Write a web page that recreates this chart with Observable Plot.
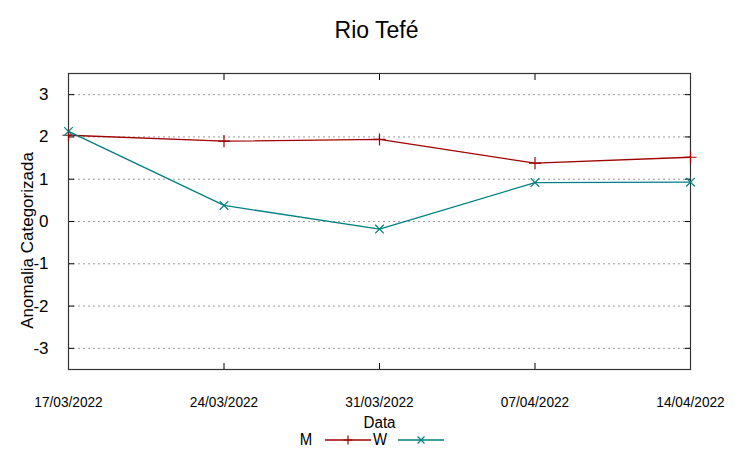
<!DOCTYPE html>
<html>
<head>
<meta charset="utf-8">
<script src="https://cdn.jsdelivr.net/npm/d3@7"></script>
<script src="https://cdn.jsdelivr.net/npm/@observablehq/plot@0.6"></script>
<style>
  body { margin: 0; background: #fff; width: 753px; height: 458px; position: relative; overflow: hidden; }
  #title { height: 60px; line-height: 60px; text-align: center; font-family: "Liberation Sans", Arial, sans-serif; font-size: 23px; color: #000; }
  #legend { position: absolute; top: 430px; left: 0; width: 743px; display: flex; justify-content: center; align-items: center;
            font-family: "Liberation Sans", Arial, sans-serif; font-size: 17px; color: #000; }
  #legend span { display: inline-block; }
</style>
</head>
<body>
<div id="title">Rio Tefé</div>
<div id="chart"></div>
<div id="legend"></div>
<script>
// ---- data ----
const dates = ["2022-03-17", "2022-03-24", "2022-03-31", "2022-04-07", "2022-04-14"];
const seriesNames = ["M", "W"];
const mValues = [2.04, 1.90, 1.94, 1.38, 1.52];
const wValues = [2.13, 0.38, -0.18, 0.92, 0.93];
const yTicks = [-3, -2, -1, 0, 1, 2, 3];
const seriesColors = ["#a00000", "#008080"];
const seriesSymbols = ["plus", "times"];

const parse = d3.utcParse("%Y-%m-%d");
const xDates = dates.map(parse);
const data = [];
seriesNames.forEach((s, si) => {
  const vals = si === 0 ? mValues : wValues;
  xDates.forEach((d, i) => data.push({series: s, date: d, value: vals[i]}));
});
const fmt = d3.utcFormat("%d/%m/%Y");
const regular = "'Liberation Sans', Arial, sans-serif";
const narrowA = "'Liberation Sans', Arial, sans-serif, narrowA";
const narrowB = "'Liberation Sans', Arial, sans-serif, narrowB";

const chart = Plot.plot({
  width: 753,
  height: 398,
  marginTop: 13,
  marginBottom: 89,
  marginLeft: 68,
  marginRight: 63,
  style: {fontFamily: regular, fontSize: "17px", color: "#000", background: "#fff"},
  x: {type: "utc", domain: [xDates[0], xDates[xDates.length - 1]]},
  y: {domain: [-3.5, 3.5]},
  color: {domain: seriesNames, range: seriesColors},
  symbol: {domain: seriesNames, range: seriesSymbols},
  marks: [
    Plot.gridY(yTicks, {stroke: "#9a9a9a", strokeOpacity: 1, strokeDasharray: "2,3"}),
    Plot.axisY(yTicks, {anchor: "left", tickSize: 0, tickPadding: 20, tickFormat: d => String(d), fontSize: 17, fontFamily: regular, label: null}),
    Plot.axisY(yTicks, {anchor: "left", tickSize: -6, tickFormat: () => "", label: null, stroke: "#000"}),
    Plot.axisY(yTicks, {anchor: "right", tickSize: -6, tickFormat: () => "", label: null, stroke: "#000"}),
    Plot.axisX(xDates, {anchor: "bottom", tickSize: 0, tickPadding: 26, tickFormat: d => fmt(d), fontSize: 15.5, fontFamily: narrowA, label: null}),
    Plot.axisX(xDates, {anchor: "bottom", tickSize: -6, tickFormat: () => "", label: null, stroke: "#000"}),
    Plot.axisX(xDates, {anchor: "top", tickSize: -6, tickFormat: () => "", label: null, stroke: "#000"}),
    Plot.frame({stroke: "#333", strokeWidth: 1.2}),
    Plot.line(data, {x: "date", y: "value", z: "series", stroke: "series", strokeWidth: 1.3}),
    Plot.dot(data, {x: "date", y: "value", stroke: "series", symbol: "series", r: 4, strokeWidth: 1.2}),
    Plot.text(["Data"], {frameAnchor: "bottom", dy: 58, fontSize: 16, fontFamily: narrowB, fill: "#000"}),
    Plot.text(["Anomalia Categorizada"], {frameAnchor: "left", textAnchor: "middle", dx: -41, dy: 19, rotate: -90, fontSize: 17, fontFamily: regular, fill: "#000"})
  ]
});
document.getElementById("chart").appendChild(chart);

// gnuplot renders horizontal texts condensed: compress glyphs horizontally
chart.querySelectorAll("g").forEach(g => {
  const ff = g.getAttribute("font-family");
  if (ff && ff.includes("narrow")) {
    const factor = ff.includes("narrowA") ? 0.88 : 0.95;
    g.setAttribute("font-family", regular);
    g.querySelectorAll("text").forEach(t => {
      const len = t.getComputedTextLength();
      if (len > 0) {
        t.setAttribute("textLength", (len * factor).toFixed(1));
        t.setAttribute("lengthAdjust", "spacingAndGlyphs");
      }
    });
  }
});

// legend (gnuplot style: label then line sample with marker)
const legend = document.getElementById("legend");
const ns = "http://www.w3.org/2000/svg";
seriesNames.forEach((s, i) => {
  const lab = document.createElement("span");
  lab.textContent = s;
  lab.style.transform = "scaleX(0.88)";
  lab.style.marginRight = i === 0 ? "12px" : "10px";
  legend.appendChild(lab);
  const svg = document.createElementNS(ns, "svg");
  svg.setAttribute("width", "46");
  svg.setAttribute("height", "16");
  const line = document.createElementNS(ns, "line");
  line.setAttribute("x1", "0"); line.setAttribute("x2", "46");
  line.setAttribute("y1", "8"); line.setAttribute("y2", "8");
  line.setAttribute("stroke", seriesColors[i]); line.setAttribute("stroke-width", "1.3");
  svg.appendChild(line);
  const p = document.createElementNS(ns, "path");
  p.setAttribute("d", i === 0 ? "M23,3.5V12.5M18.5,8H27.5" : "M19.5,4.5L26.5,11.5M26.5,4.5L19.5,11.5");
  p.setAttribute("stroke", seriesColors[i]); p.setAttribute("stroke-width", "1.2"); p.setAttribute("fill", "none");
  svg.appendChild(p);
  legend.appendChild(svg);
  if (i === 0) { const sp = document.createElement("span"); sp.style.width = "1px"; legend.appendChild(sp); }
});
</script>
</body>
</html>
